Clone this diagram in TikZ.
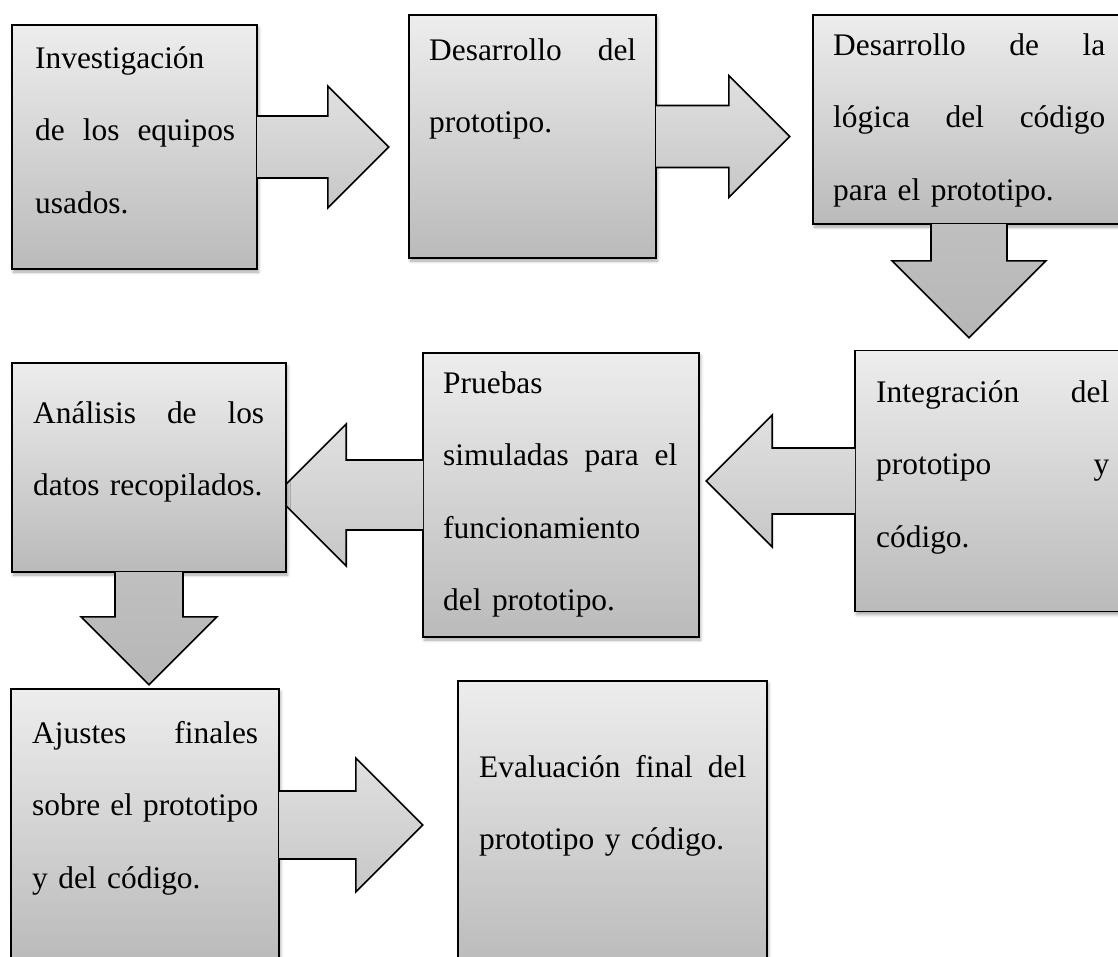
\documentclass[tikz,border=0pt]{standalone}
\usepackage{fontspec}
\setmainfont{Liberation Serif}
\usetikzlibrary{calc, shadows.blur}

\begin{document}
\begin{tikzpicture}[
  x=1pt, y=-1pt,
  box/.style={rectangle, draw, line width=1.6pt, inner sep=0pt,
              top color=gray!14, bottom color=gray!54,
              blur shadow={shadow xshift=1.5pt, shadow yshift=-3pt,
                           shadow blur radius=3pt, shadow opacity=35}},
  txt/.style={inner sep=0pt, align=left, anchor=base west,
              font=\fontsize{31.4}{72.5}\selectfont},
  barrow/.style={draw, line width=1.6pt, line join=miter,
                 top color=gray!24, bottom color=gray!44},
  darrow/.style={barrow, top color=gray!50, bottom color=gray!57},
]
  \useasboundingbox (0,0) rectangle (1118,956);

  % Top row, left to right
  \node[box, minimum width=245pt, minimum height=244pt] (inv)   at (134.5,147)  {};
  \draw[barrow] ($(inv.east)+(-0.8,-31)$) -- ++(70.8,0) -- ++(0,-30) -- ++(61,61)
    -- ++(-61,61) -- ++(0,-30) -- ++(-70.8,0);
  \node[box, minimum width=247pt, minimum height=243pt] (proto) at (532.5,136.5) {};
  \draw[barrow] ($(proto.east)+(-0.8,-31)$) -- ++(72.8,0) -- ++(0,-30) -- ++(61,61)
    -- ++(-61,61) -- ++(0,-30) -- ++(-72.8,0);
  \node[box, minimum width=312pt, minimum height=209pt] (logic) at (969,119.5)  {};
  \draw[darrow] ($(logic.south)+(-38,-0.8)$) -- ++(0,36.8) -- ++(-39,0) -- ++(77,77)
    -- ++(77,-77) -- ++(-39,0) -- ++(0,-36.8);

  % Middle row, right to left
  \node[box, minimum width=270pt, minimum height=261pt] (integ) at (990,481)   {};
  \draw[barrow] ($(integ.west)+(0.8,-33)$) -- ++(-82.8,0) -- ++(0,-33) -- ++(-66,66)
    -- ++(66,66) -- ++(0,-33) -- ++(82.8,0);
  \node[box, minimum width=276pt, minimum height=284pt] (tests) at (561,495)   {};
  \draw[barrow] ($(tests.west)+(0.8,-35)$) -- ++(-76.8,0) -- ++(0,-36) -- ++(-71,71)
    -- ++(71,71) -- ++(0,-36) -- ++(76.8,0);
  \node[box, minimum width=274pt, minimum height=209pt] (anal)  at (149,467.5) {};
  \draw[darrow] ($(anal.south)+(-34,-0.8)$) -- ++(0,44.8) -- ++(-34,0) -- ++(68,68)
    -- ++(68,-68) -- ++(-34,0) -- ++(0,-44.8);

  % Bottom row
  \node[box, minimum width=268pt, minimum height=272pt] (adj)   at (145,825)   {};
  \draw[barrow] ($(adj.east)+(-0.8,-34)$) -- ++(76.8,0) -- ++(0,-33) -- ++(67,67)
    -- ++(-67,67) -- ++(0,-33) -- ++(-76.8,0);
  \node[box, minimum width=309pt, minimum height=290pt] (eval)  at (612.5,826) {};

  % Texts
  \node[txt, text width=200pt] (t-inv)   at (35,68)   {Investigación\\de\hfill los\hfill equipos\\usados.};
  \node[txt, text width=207pt] (t-proto) at (429,60)  {Desarrollo\hfill del\\prototipo.};
  \node[txt, text width=272pt] (t-logic) at (833,55)  {Desarrollo\hfill de\hfill la\\lógica\hfill del\hfill código\\para el prototipo.};
  \node[txt, text width=233pt] (t-integ) at (876,402) {Integración\hfill del\\prototipo\hfill y\\código.};
  \node[txt, text width=234pt] (t-tests) at (443,393) {Pruebas\\simuladas\hfill para\hfill el\\funcionamiento\\del prototipo.};
  \node[txt, text width=231pt] (t-anal)  at (33,423)  {Análisis\hfill de\hfill los\\datos recopilados.};
  \node[txt, text width=226pt] (t-adj)   at (32,743)  {Ajustes\hfill finales\\sobre\hfill el\hfill prototipo\\y del código.};
  \node[txt, text width=267pt] (t-eval)  at (479,777) {Evaluación\hfill final\hfill del\\prototipo y código.};
\end{tikzpicture}
\end{document}
